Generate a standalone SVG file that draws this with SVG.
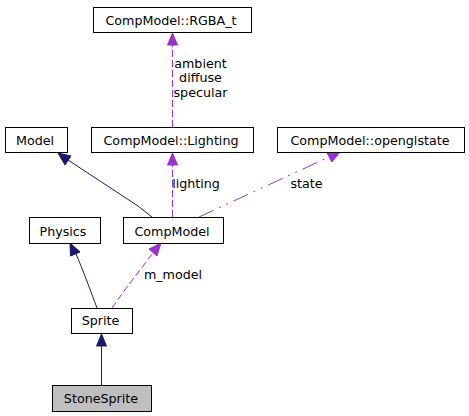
<svg xmlns="http://www.w3.org/2000/svg" width="469" height="416" viewBox="0 0 469 416">
<style>
  .box { fill: #ffffff; stroke: #000000; stroke-width: 1; }
  .cur { fill: #bfbfbf; stroke: #000000; stroke-width: 1; }
  text { font-family: "DejaVu Sans", "Liberation Sans", sans-serif; font-size: 12.7px; fill: #000000; }
  .lbl { text-anchor: middle; }
  .inh { fill: none; stroke: #191970; stroke-width: 1; }
  .use { fill: none; stroke: #9a32cd; stroke-width: 1; stroke-dasharray: 7,3; }
  .use2 { fill: none; stroke: #9a32cd; stroke-width: 1; stroke-dasharray: 16,6,2,6,2,6; }
  .hInh { fill: #191970; stroke: #191970; }
  .hUse { fill: #9a32cd; stroke: #9a32cd; }
</style>
<rect width="469" height="416" fill="#ffffff"/>
<g id="connectors">
  <!-- Lighting -> RGBA_t -->
  <path class="use" d="M172.5,127 L172.5,45"/>
  <polygon class="hUse" points="172.5,33 167.5,45 177.5,45"/>
  <text class="lbl" x="200.5" y="67.5">ambient</text>
  <text class="lbl" x="200.5" y="82.3">diffuse</text>
  <text class="lbl" x="200.5" y="96.8">specular</text>
  <!-- CompModel -> Lighting -->
  <path class="use" d="M172.5,217 L172.5,165"/>
  <polygon class="hUse" points="172.5,153 167.5,165 177.5,165"/>
  <text class="lbl" x="196" y="188.3">lighting</text>
  <!-- CompModel -> opengl state -->
  <path class="use2" d="M199,217 L329,157"/>
  <polygon class="hUse" points="340,152 327,153 332,162"/>
  <text class="lbl" x="306.5" y="188.3">state</text>
  <!-- CompModel -> Model -->
  <path class="inh" d="M152,217 L138,206 L68,160"/>
  <polygon class="hInh" points="58,153 71,156 65,165"/>
  <!-- Sprite -> Physics -->
  <path class="inh" d="M97,308 C91,292 83,270 76,254"/>
  <polygon class="hInh" points="70,243 70.5,256 80,252"/>
  <!-- Sprite -> CompModel -->
  <path class="use" d="M112,308 C120,296 140,270 153,253"/>
  <polygon class="hUse" points="161,243 149,249 157,256"/>
  <text class="lbl" x="173" y="279">m_model</text>
  <!-- StoneSprite -> Sprite -->
  <path class="inh" d="M101.5,385 L101.5,346"/>
  <polygon class="hInh" points="101.5,334 96.5,346 106.5,346"/>
</g>
<g id="node-rgba">
  <rect class="box" x="93.5" y="7.5" width="158" height="25"/>
  <text class="lbl" x="171" y="24.5">CompModel::RGBA_t</text>
</g>
<g id="node-model">
  <rect class="box" x="5.5" y="127.5" width="62" height="25"/>
  <text class="lbl" x="35" y="144.5">Model</text>
</g>
<g id="node-lighting">
  <rect class="box" x="91.5" y="127.5" width="162" height="25"/>
  <text class="lbl" x="171" y="144.5">CompModel::Lighting</text>
</g>
<g id="node-openglstate">
  <rect class="box" x="277.5" y="127.5" width="187" height="25"/>
  <text class="lbl" x="370" y="144.5">CompModel::openglstate</text>
</g>
<g id="node-physics">
  <rect class="box" x="29.5" y="217.5" width="71" height="26"/>
  <text class="lbl" x="63" y="235.5">Physics</text>
</g>
<g id="node-compmodel">
  <rect class="box" x="123.5" y="217.5" width="100" height="26"/>
  <text class="lbl" x="172" y="235.5">CompModel</text>
</g>
<g id="node-sprite">
  <rect class="box" x="71.5" y="308.5" width="61" height="25"/>
  <text class="lbl" x="100.5" y="325.3">Sprite</text>
</g>
<g id="node-stonesprite">
  <rect class="cur" x="52.5" y="385.5" width="99" height="26"/>
  <text class="lbl" x="101" y="403.3">StoneSprite</text>
</g>
</svg>
